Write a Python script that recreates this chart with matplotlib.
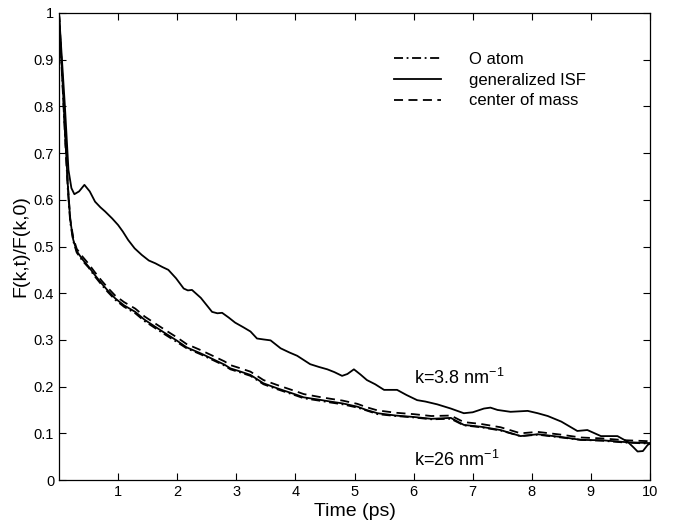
import matplotlib
matplotlib.use("Agg")
import matplotlib.pyplot as plt

plt.rcParams['font.family'] = ['Liberation Sans', 'DejaVu Sans']

# k = 3.8 nm^-1, generalized ISF
t_up = [0, 0.05, 0.1, 0.16, 0.21, 0.26, 0.34, 0.43, 0.52, 0.61, 0.70, 0.78, 0.9, 1.0,
        1.08, 1.17, 1.28, 1.40, 1.52, 1.63, 1.75, 1.85, 1.98, 2.11, 2.18, 2.25, 2.4,
        2.59, 2.68, 2.76, 2.87, 2.98, 3.12, 3.24, 3.35, 3.46, 3.58, 3.75, 3.9, 4.03,
        4.25, 4.4, 4.54, 4.66, 4.79, 4.88, 4.99, 5.1, 5.21, 5.35, 5.50, 5.6, 5.72, 5.88,
        6.06, 6.2, 6.4, 6.63, 6.85, 7.0, 7.19, 7.3, 7.42, 7.64, 7.93, 8.1, 8.27, 8.5,
        8.77, 8.94, 9.17, 9.45, 9.62, 9.72, 9.79, 9.88, 9.96, 10.0]
isf_k38 = [1.0, 0.90, 0.80, 0.664, 0.625, 0.612, 0.618, 0.632, 0.618, 0.596, 0.584, 0.575,
           0.560, 0.546, 0.532, 0.514, 0.496, 0.482, 0.470, 0.464, 0.456, 0.450, 0.432,
           0.410, 0.406, 0.407, 0.390, 0.360, 0.357, 0.358, 0.348, 0.337, 0.327, 0.318,
           0.303, 0.301, 0.299, 0.282, 0.273, 0.266, 0.248, 0.242, 0.237, 0.231, 0.223,
           0.227, 0.237, 0.226, 0.214, 0.205, 0.193, 0.193, 0.193, 0.182, 0.171, 0.168,
           0.162, 0.153, 0.143, 0.145, 0.153, 0.155, 0.150, 0.146, 0.148, 0.143, 0.137,
           0.125, 0.105, 0.107, 0.094, 0.094, 0.082, 0.070, 0.061, 0.062, 0.075, 0.078]

# k = 26 nm^-1
t_low = [0, 0.05, 0.1, 0.15, 0.19, 0.24, 0.30, 0.40, 0.50, 0.60, 0.72, 0.83, 0.95, 1.1,
         1.29, 1.45, 1.63, 1.8, 2.0, 2.16, 2.4, 2.6, 2.8, 2.9, 3.05, 3.24, 3.46, 3.7,
         4.03, 4.14, 4.4, 4.59, 4.8, 5.05, 5.2, 5.39, 5.7, 6.0, 6.3, 6.63, 6.85, 7.14,
         7.47, 7.81, 8.1, 8.5, 8.83, 9.2, 9.6, 10.0]
isf_k26 = [1.0, 0.88, 0.75, 0.63, 0.557, 0.515, 0.490, 0.472, 0.457, 0.440, 0.421, 0.405,
           0.389, 0.374, 0.360, 0.343, 0.328, 0.314, 0.298, 0.284, 0.271, 0.259, 0.247,
           0.239, 0.233, 0.225, 0.207, 0.196, 0.182, 0.177, 0.172, 0.168, 0.164, 0.157,
           0.150, 0.143, 0.138, 0.135, 0.131, 0.133, 0.118, 0.114, 0.107, 0.094, 0.098,
           0.092, 0.086, 0.085, 0.081, 0.079]
o_atom = [1.0, 0.87, 0.74, 0.62, 0.552, 0.512, 0.487, 0.469, 0.455, 0.437, 0.418, 0.402,
          0.386, 0.371, 0.357, 0.340, 0.325, 0.311, 0.295, 0.282, 0.269, 0.257, 0.245,
          0.237, 0.231, 0.223, 0.205, 0.194, 0.180, 0.175, 0.170, 0.166, 0.162, 0.155,
          0.149, 0.141, 0.137, 0.134, 0.130, 0.131, 0.117, 0.113, 0.106, 0.094, 0.097,
          0.091, 0.086, 0.084, 0.080, 0.078]
com = [1.0, 0.88, 0.75, 0.63, 0.560, 0.519, 0.495, 0.478, 0.463, 0.446, 0.427, 0.411,
       0.395, 0.381, 0.367, 0.350, 0.335, 0.321, 0.305, 0.291, 0.278, 0.266, 0.254,
       0.246, 0.240, 0.232, 0.214, 0.203, 0.189, 0.184, 0.178, 0.174, 0.170, 0.163,
       0.156, 0.149, 0.144, 0.141, 0.137, 0.138, 0.124, 0.120, 0.113, 0.100, 0.103,
       0.097, 0.091, 0.089, 0.085, 0.083]

xticks = [1, 2, 3, 4, 5, 6, 7, 8, 9, 10]
yticks = [0, 0.1, 0.2, 0.3, 0.4, 0.5, 0.6, 0.7, 0.8, 0.9, 1]

fig = plt.figure(figsize=(6.78, 5.23), dpi=100)
ax = fig.add_axes([59/678, 43/523, 591/678, 467/523])

lw = 1.3
l1, = ax.plot(t_low, o_atom, color='black', lw=lw, linestyle=(0, (5, 2, 1, 2)), label='O atom')
l2, = ax.plot(t_low, isf_k26, color='black', lw=lw, linestyle='-', label='generalized ISF')
l3, = ax.plot(t_low, com, color='black', lw=lw, linestyle=(0, (5, 3)), label='center of mass')
ax.plot(t_up, isf_k38, color='black', lw=lw, linestyle='-')

ax.set_xlim(0, 10)
ax.set_ylim(0, 1)
ax.set_xticks(xticks)
ax.set_xticklabels([str(v) for v in xticks])
ax.set_yticks(yticks)
ax.set_yticklabels(['0', '0.1', '0.2', '0.3', '0.4', '0.5', '0.6', '0.7', '0.8', '0.9', '1'])
ax.tick_params(direction='in', top=True, right=True, labelsize=10.5, length=5, width=0.8)
for s in ax.spines.values():
    s.set_linewidth(0.9)

ax.set_xlabel('Time (ps)', fontsize=14, labelpad=3)
ax.set_ylabel('F(k,t)/F(k,0)', fontsize=14, labelpad=3)

ax.text(6.0, 0.218, r'k=3.8 nm$^{\mathregular{-1}}$', fontsize=13, va='center', ha='left')
ax.text(6.0, 0.043, r'k=26 nm$^{\mathregular{-1}}$', fontsize=13, va='center', ha='left')

ax.legend(handles=[l1, l2, l3], loc='upper left', bbox_to_anchor=(0.542, 0.949),
          frameon=False, fontsize=12, handlelength=2.8, handletextpad=1.7,
          labelspacing=0.35)

fig.savefig('out.png', dpi=100)
